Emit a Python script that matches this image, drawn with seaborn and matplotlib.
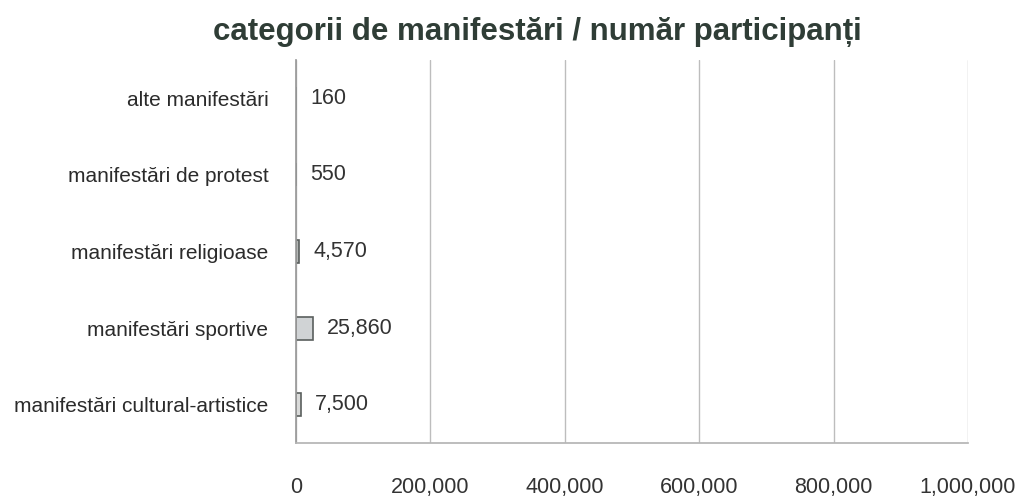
import matplotlib
matplotlib.use("Agg")
import matplotlib.pyplot as plt
import seaborn as sns
import pandas as pd
from matplotlib.ticker import FuncFormatter

categorii = ["alte manifestări", "manifestări de protest", "manifestări religioase",
             "manifestări sportive", "manifestări cultural-artistice"]
participanti = [160, 550, 4570, 25860, 7500]
culori = ["#6f7472", "#686d6b", "#b3b6b5", "#cfd3d6", "#d9dad9"]
x_ticks = [0, 200000, 400000, 600000, 800000, 1000000]

df = pd.DataFrame({"categorie": categorii, "participanti": participanti})

sns.set_theme(style="white")
plt.rcParams["font.family"] = ["Liberation Sans", "DejaVu Sans"]

fig = plt.figure(figsize=(10.21, 4.98), dpi=100)
ax = fig.add_axes([0.29, 0.11, 0.658, 0.77])

sns.barplot(data=df, y="categorie", x="participanti", hue="categorie",
            palette=culori, legend=False, orient="h", width=0.3,
            edgecolor="#5a5f5d", linewidth=1.2, ax=ax)

ax.set_xlim(0, 1000000)
ax.set_xticks(x_ticks)
ax.xaxis.set_major_formatter(FuncFormatter(lambda v, p: f"{int(v):,}"))
ax.grid(axis="x", color="#bdbdbd", linewidth=1)
ax.set_axisbelow(True)
for s in ["top", "right"]:
    ax.spines[s].set_visible(False)
ax.spines["left"].set_color("#9a9a9a")
ax.spines["bottom"].set_color("#b5b5b5")
ax.set_xlabel("")
ax.set_ylabel("")

ax.tick_params(axis="x", labelsize=15.5, labelcolor="#333333", pad=24, length=0)
ax.tick_params(axis="y", labelsize=15, labelcolor="#2b2b2b", pad=20, length=0)

for i, v in enumerate(participanti):
    ax.annotate(f"{v:,}", xy=(v, i), xytext=(10, 0), textcoords="offset points",
                va="center", ha="left", fontsize=15.5, color="#333333")

fig.suptitle("categorii de manifestări / număr participanți", x=0.526, y=0.965,
             fontsize=22.5, fontweight="bold", color="#2f3d36")

fig.savefig("out.png", dpi=100)
